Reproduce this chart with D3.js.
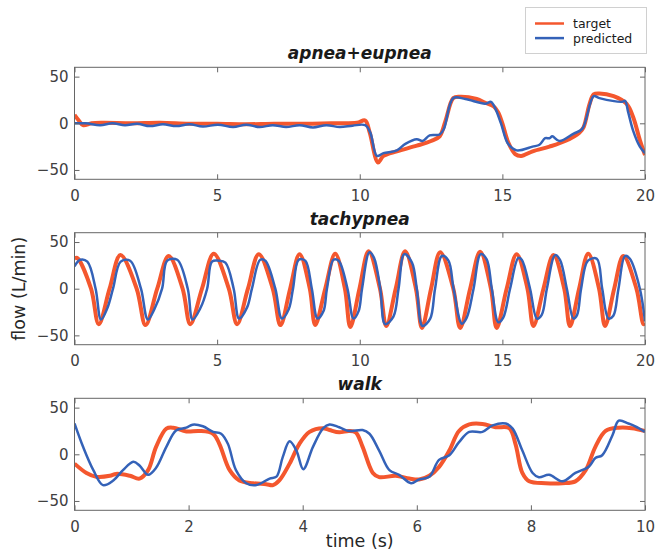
<!DOCTYPE html>
<html>
<head>
<meta charset="utf-8">
<script src="https://cdn.jsdelivr.net/npm/d3@7"></script>
<style>
  body { margin: 0; background: #fff; }
  svg { font-family: "DejaVu Sans", sans-serif; display: block; }
  .tick text { fill: #404040; font-size: 15px; }
  .tick line { stroke: #666; }
</style>
</head>
<body>
<div class="container"></div>
<script>
//Data: [time (s), flow (L/min)]
const apneaTarget = [[0,9],[0.15,3],[0.3,-2],[0.6,0],[1,0.5],[2,0],[3,0.5],[4,-0.5],[5,-0.5],[6,-1],[7,-0.5],[8,-0.5],[9,0],[9.9,0.5],[10.19,3],[10.35,-10],[10.64,-42],[10.83,-35],[11.3,-30],[12.0,-24],[12.5,-19],[12.8,-14],[13.0,2],[13.28,27],[13.5,28.5],[14.1,26],[14.4,22],[14.7,18],[14.85,12],[15.0,0],[15.2,-20],[15.45,-33],[15.66,-35],[16.06,-30],[16.65,-25],[17.2,-19],[17.7,-10],[17.85,-4],[18.05,20],[18.2,31],[18.4,32],[18.9,29],[19.35,21],[19.58,7],[19.82,-18],[20,-34]];
const apneaPred = [[0,0],[0.4,0],[0.9,-2],[1.33,0],[1.77,-2],[2.2,-0.5],[2.64,-3],[3.1,-1],[3.57,-3],[4.03,-1],[4.5,-3.5],[5.03,-1.5],[5.56,-4],[6.02,-1.5],[6.49,-4],[6.95,-2],[7.42,-4],[7.89,-2],[8.36,-4.5],[8.83,-2],[9.3,-4],[9.75,-2.5],[10.19,-2],[10.37,-10],[10.6,-35],[10.83,-32],[11.3,-29],[11.6,-22],[12.0,-17],[12.2,-19],[12.45,-13],[12.8,-12],[12.95,-6],[13.28,27],[13.7,26],[14.4,21],[14.6,23],[14.75,16],[14.95,0],[15.2,-22],[15.5,-29],[16.06,-25],[16.3,-23],[16.5,-16],[16.65,-16],[16.75,-14],[17.0,-19],[17.5,-11],[17.8,-6],[18.2,29],[18.4,27],[19.2,23],[19.3,24],[19.41,12],[19.58,-7.5],[19.82,-25],[20,-32]];

const tachyTarget = [[0,32],[0.09,33],[0.58,0],[0.85,-38],[1.23,0],[1.61,36],[2.18,0],[2.49,-39],[2.9,0],[3.3,35],[3.79,0],[4.06,-38],[4.47,0],[4.88,37.5],[5.41,0],[5.7,-38],[6.08,0],[6.46,37],[6.95,0],[7.22,-39],[7.56,0],[7.89,37],[8.25,0],[8.44,-39],[8.79,0],[9.14,37.5],[9.48,0],[9.67,-41],[9.99,0],[10.31,40],[10.71,0],[10.93,-40],[11.26,0],[11.59,40],[11.97,0],[12.18,-42],[12.5,0],[12.82,39],[13.28,0],[13.52,-42],[13.87,0],[14.22,39.5],[14.6,0],[14.8,-42],[15.15,0],[15.5,37],[15.88,0],[16.09,-40],[16.44,0],[16.79,36],[17.17,0],[17.37,-40],[17.69,0],[18.01,37.5],[18.39,0],[18.6,-40],[18.92,0],[19.24,35],[19.7,0],[19.95,-38],[20,-37]];
const tachyPred = [[0,24],[0.2,31],[0.45,29],[0.74,0],[0.93,-33],[1.15,-21],[1.35,0],[1.62,29],[1.95,30],[2.33,0],[2.57,-33],[2.8,-22],[3.07,0],[3.25,30],[3.6,31],[3.97,0],[4.14,-33],[4.41,-21],[4.65,0],[4.82,29],[5.05,30],[5.29,28],[5.58,0],[5.77,-32],[6.05,-20],[6.22,0],[6.51,31],[6.69,30],[7.04,0],[7.27,-32],[7.51,-22],[7.66,0],[7.86,31],[8.09,30],[8.32,0],[8.52,-32],[8.73,-24],[8.85,0],[9.08,31],[9.26,30],[9.57,0],[9.78,-32],[9.96,-24],[10.08,0],[10.34,39],[10.5,33],[10.72,0],[10.89,-38],[11.18,-30],[11.36,0],[11.56,37],[11.83,28],[12.0,0],[12.2,-40],[12.47,-32],[12.64,0],[12.88,35],[13.11,30],[13.29,0],[13.58,-37.5],[13.75,-31],[13.99,0],[14.24,37],[14.45,31.5],[14.63,0],[14.86,-36],[15.03,-31],[15.27,0],[15.56,33],[15.68,31],[15.97,0],[16.21,-32],[16.38,-28],[16.56,0],[16.85,36],[17.02,31],[17.26,0],[17.49,-32],[17.62,-28],[17.76,0],[18.0,30],[18.31,32],[18.5,0],[18.72,-32],[18.89,-29],[19.07,0],[19.3,35],[19.47,32],[19.82,0],[20,-35]];

const walkTarget = [[0,-10],[0.21,-20],[0.38,-24],[0.62,-23],[0.73,-21],[0.97,-23],[1.14,-26],[1.29,-17],[1.43,8],[1.61,27.5],[1.73,28.5],[1.96,24.5],[2.19,25],[2.43,22],[2.54,11],[2.72,-17],[2.89,-28],[3.13,-31],[3.36,-32],[3.48,-33],[3.59,-28],[3.77,-10],[3.94,11],[4.12,24],[4.35,28],[4.47,26],[4.64,23.5],[4.81,25],[4.93,23.5],[5.05,8],[5.23,-20],[5.34,-24.5],[5.63,-23],[5.87,-26],[6.04,-27],[6.22,-23],[6.39,-13.5],[6.57,4],[6.74,25],[6.92,32],[7.15,32.5],[7.38,29],[7.62,28],[7.73,11],[7.85,-20],[7.97,-29],[8.26,-31],[8.55,-31],[8.78,-29],[8.96,-17],[9.13,8],[9.31,25],[9.54,28.5],[9.77,28],[10,25]];
const walkPred = [[0,33],[0.15,8],[0.33,-17],[0.5,-33],[0.68,-28],[0.85,-17],[1.03,-8],[1.14,-12],[1.29,-22],[1.43,-14.5],[1.61,8],[1.78,25.6],[1.96,28.5],[2.07,31.7],[2.25,30],[2.43,24],[2.57,22],[2.69,11],[2.83,-17],[3.01,-31],[3.19,-33],[3.42,-26],[3.54,-24],[3.65,-3],[3.77,14],[3.89,4],[4.01,-16],[4.18,8],[4.36,28],[4.47,32],[4.64,29],[4.81,25],[5.05,26],[5.17,22],[5.34,4],[5.52,-17],[5.69,-22],[5.9,-31],[6.04,-27],[6.22,-24],[6.39,-6],[6.57,-1],[6.74,13],[6.92,24],[7.15,24],[7.33,31],[7.56,33],[7.68,27.5],[7.85,4],[8.03,-20],[8.14,-24.5],[8.32,-22],[8.55,-29],[8.78,-20],[9.02,-13],[9.13,-4],[9.25,-1],[9.43,20.5],[9.54,36],[9.71,33],[9.83,30],[10,24]];

const titles = ["apnea+eupnea", "tachypnea", "walk"];
const xMaxes = [20, 20, 10];
const xTicksLong = [0, 5, 10, 15, 20];
const xTicksWalk = [0, 2, 4, 6, 8, 10];
const yTicks = [-50, 0, 50];
const yDomain = [-60, 60];
const seriesNames = ["target", "predicted"];

const targetColor = "#f4572e",
  predColor = "#3462b8";

const left = 74.5,
  right = 645,
  h = 112;
const w = right - left;
const tops = [67.3, 232.7, 398.3];

const panels = [
  { title: titles[0], target: apneaTarget, pred: apneaPred, xMax: xMaxes[0], ticks: xTicksLong },
  { title: titles[1], target: tachyTarget, pred: tachyPred, xMax: xMaxes[1], ticks: xTicksLong },
  { title: titles[2], target: walkTarget, pred: walkPred, xMax: xMaxes[2], ticks: xTicksWalk }
];

//Chart container
const svg = d3
  .select(".container")
  .append("svg")
  .attr("width", 656)
  .attr("height", 553);

panels.forEach((p, i) => {
  const g = svg.append("g").attr("transform", `translate(${left},${tops[i]})`);

  const xScale = d3.scaleLinear().domain([0, p.xMax]).range([0, w]);
  const yScale = d3.scaleLinear().domain(yDomain).range([h, 0]);

  //Clip the curves to the plot box
  g.append("clipPath")
    .attr("id", `clip${i}`)
    .append("rect")
    .attr("width", w)
    .attr("height", h);

  const line = d3
    .line()
    .x(d => xScale(d[0]))
    .y(d => yScale(d[1]))
    .curve(d3.curveCatmullRom.alpha(0.5));

  g.append("path")
    .datum(p.target)
    .attr("clip-path", `url(#clip${i})`)
    .attr("fill", "none")
    .attr("stroke", targetColor)
    .attr("stroke-width", 4)
    .attr("stroke-linejoin", "round")
    .attr("d", line);

  g.append("path")
    .datum(p.pred)
    .attr("clip-path", `url(#clip${i})`)
    .attr("fill", "none")
    .attr("stroke", predColor)
    .attr("stroke-width", 2.5)
    .attr("stroke-linejoin", "round")
    .attr("d", line);

  //Axes, ticks pointing inside
  g.append("g")
    .attr("transform", `translate(0,${h})`)
    .call(d3.axisBottom(xScale).tickValues(p.ticks).tickSizeInner(-5).tickSizeOuter(0).tickPadding(11))
    .call(a => a.select(".domain").remove());
  g.append("g")
    .call(d3.axisTop(xScale).tickValues(p.ticks).tickSizeInner(-5).tickSizeOuter(0).tickFormat(""))
    .call(a => a.select(".domain").remove());
  g.append("g")
    .call(d3.axisLeft(yScale).tickValues(yTicks).tickSizeInner(-5).tickSizeOuter(0).tickPadding(6))
    .call(a => a.select(".domain").remove());
  g.append("g")
    .attr("transform", `translate(${w},0)`)
    .call(d3.axisRight(yScale).tickValues(yTicks).tickSizeInner(-5).tickSizeOuter(0).tickFormat(""))
    .call(a => a.select(".domain").remove());

  g.selectAll(".tick text").attr("font-family", "DejaVu Sans").attr("font-size", 15);

  //Box
  g.append("rect")
    .attr("width", w)
    .attr("height", h)
    .attr("fill", "none")
    .attr("stroke", "#666")
    .attr("stroke-width", 1);

  //Title
  g.append("text")
    .attr("x", w / 2)
    .attr("y", -8)
    .attr("text-anchor", "middle")
    .attr("font-size", 17)
    .attr("font-weight", "bold")
    .attr("font-style", "italic")
    .attr("fill", "#1a1a1a")
    .text(p.title);
});

//Axis labels
svg.append("text")
  .attr("transform", `translate(25,${tops[1] + h / 2}) rotate(-90)`)
  .attr("text-anchor", "middle")
  .attr("font-size", 17.5)
  .attr("fill", "#262626")
  .text("flow (L/min)");

svg.append("text")
  .attr("x", left + w / 2)
  .attr("y", 547)
  .attr("text-anchor", "middle")
  .attr("font-size", 17.5)
  .attr("fill", "#262626")
  .text("time (s)");

//Legend
const legend = svg.append("g").attr("transform", "translate(525.5,7.5)");
legend.append("rect")
  .attr("width", 121)
  .attr("height", 46)
  .attr("fill", "#fff")
  .attr("stroke", "#d0d0d0");
seriesNames.forEach((name, i) => {
  legend.append("line")
    .attr("x1", 9.5)
    .attr("x2", 38.5)
    .attr("y1", 16 + i * 14.6)
    .attr("y2", 16 + i * 14.6)
    .attr("stroke", i === 0 ? targetColor : predColor)
    .attr("stroke-width", 2.5);
  legend.append("text")
    .attr("x", 47.5)
    .attr("y", 20.5 + i * 14.6)
    .attr("font-size", 12.5)
    .attr("fill", "#1a1a1a")
    .text(name);
});
</script>
</body>
</html>
